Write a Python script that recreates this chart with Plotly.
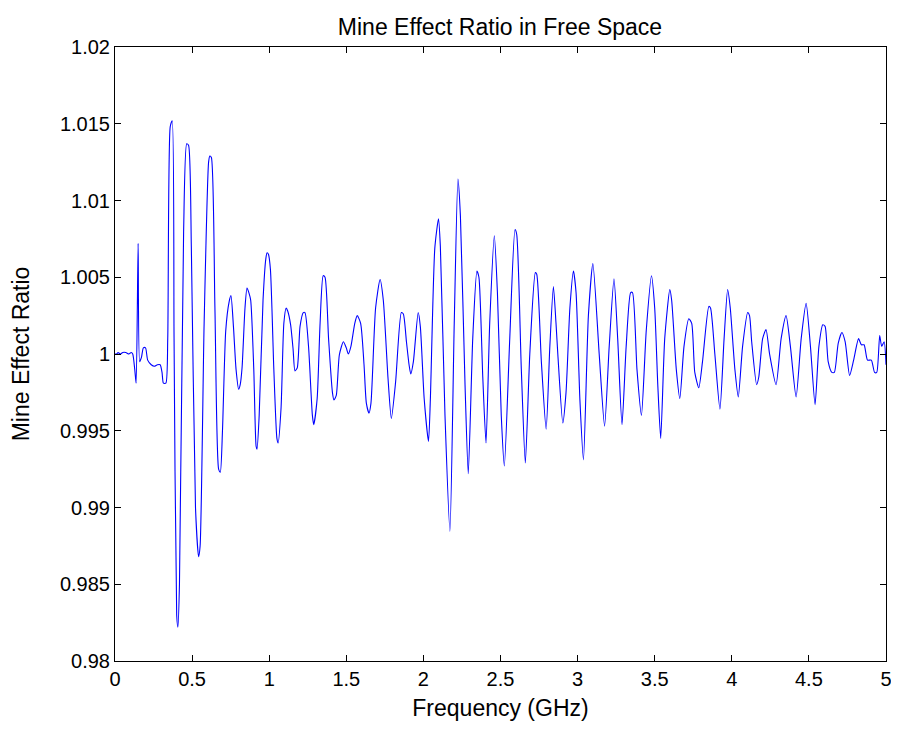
import plotly.graph_objects as go

freq_ghz = [
    0.000, 0.010, 0.020, 0.035, 0.050, 0.070, 0.090, 0.105, 0.115, 0.128,
    0.137, 0.150, 0.160, 0.172, 0.184, 0.198, 0.212, 0.235, 0.255, 0.275,
    0.293, 0.305, 0.314, 0.330, 0.342, 0.358, 0.371, 0.383, 0.400, 0.408,
    0.418, 0.445, 0.465, 0.477, 0.495, 0.522, 0.542, 0.552, 0.578, 0.607,
    0.615, 0.625, 0.648, 0.672, 0.683, 0.697, 0.718, 0.740, 0.752, 0.768,
    0.785, 0.802, 0.812, 0.824, 0.843, 0.856, 0.868, 0.880, 0.900, 0.915,
    0.921, 0.935, 0.960, 0.978, 0.986, 0.995, 1.008, 1.030, 1.050, 1.058,
    1.077, 1.095, 1.110, 1.120, 1.139, 1.155, 1.167, 1.182, 1.200, 1.221,
    1.232, 1.255, 1.280, 1.289, 1.311, 1.330, 1.350, 1.362, 1.385, 1.410,
    1.420, 1.435, 1.455, 1.481, 1.500, 1.513, 1.530, 1.555, 1.571, 1.593,
    1.615, 1.630, 1.647, 1.660, 1.690, 1.719, 1.740, 1.770, 1.792, 1.820,
    1.857, 1.870, 1.890, 1.907, 1.918, 1.935, 1.966, 1.980, 2.005, 2.033,
    2.045, 2.074, 2.098, 2.110, 2.140, 2.172, 2.200, 2.224, 2.240, 2.270,
    2.291, 2.320, 2.347, 2.360, 2.385, 2.406, 2.430, 2.460, 2.480, 2.505,
    2.525, 2.560, 2.594, 2.605, 2.635, 2.661, 2.690, 2.726, 2.735, 2.765,
    2.796, 2.820, 2.843, 2.860, 2.872, 2.904, 2.925, 2.950, 2.973, 2.990,
    3.015, 3.038, 3.070, 3.099, 3.140, 3.175, 3.205, 3.236, 3.260, 3.288,
    3.315, 3.344, 3.356, 3.385, 3.414, 3.445, 3.479, 3.500, 3.520, 3.539,
    3.565, 3.598, 3.610, 3.640, 3.663, 3.690, 3.721, 3.740, 3.760, 3.786,
    3.810, 3.851, 3.862, 3.890, 3.923, 3.950, 3.973, 3.990, 4.020, 4.042,
    4.070, 4.103, 4.115, 4.129, 4.161, 4.175, 4.200, 4.222, 4.245, 4.287,
    4.320, 4.352, 4.380, 4.417, 4.450, 4.482, 4.510, 4.540, 4.565, 4.590,
    4.605, 4.625, 4.649, 4.665, 4.690, 4.714, 4.735, 4.764, 4.790, 4.822,
    4.840, 4.858, 4.880, 4.905, 4.926, 4.940, 4.959, 4.972, 4.988, 5.000,
]

mine_effect_ratio = [
    1.0000, 1.0000, 1.0001, 1.0000, 1.0001, 1.0001, 1.0000, 1.0001, 1.0000, 0.9990,
    0.9981, 1.0072, 0.9995, 0.9998, 1.0004, 1.0004, 0.9996, 0.9993, 0.9992, 0.9993,
    0.9993, 0.9988, 0.9981, 0.9981, 1.0010, 1.0148, 1.0152, 1.0010, 0.9830, 0.9822,
    0.9850, 1.0080, 1.0137, 1.0136, 1.0070, 0.9900, 0.9868, 0.9875, 1.0020, 1.0125,
    1.0129, 1.0128, 1.0030, 0.9925, 0.9923, 0.9950, 1.0015, 1.0034, 1.0038, 1.0018,
    0.9990, 0.9977, 0.9980, 0.9991, 1.0030, 1.0043, 1.0040, 1.0035, 0.9990, 0.9940,
    0.9938, 0.9960, 1.0035, 1.0062, 1.0066, 1.0065, 1.0055, 0.9990, 0.9945, 0.9942,
    0.9965, 1.0020, 1.0030, 1.0028, 1.0019, 1.0003, 0.9989, 0.9991, 1.0018, 1.0027,
    1.0027, 1.0005, 0.9960, 0.9954, 0.9971, 1.0020, 1.0051, 1.0050, 1.0010, 0.9975,
    0.9970, 0.9973, 0.99995, 1.0008, 1.0004, 1.0000, 1.0005, 1.0020, 1.0025, 1.0020,
    0.9993, 0.9968, 0.99615, 0.9968, 1.0030, 1.00485, 1.0035, 0.9985, 0.9958, 0.9982,
    1.0027, 1.0026, 1.0008, 0.9993, 0.9987, 0.9995, 1.0027, 1.0018, 0.9971, 0.9943,
    0.9970, 1.0069, 1.0088, 1.0070, 0.9960, 0.98845, 1.0020, 1.0114, 1.0090, 0.9980,
    0.9922, 1.0010, 1.0054, 1.0050, 0.9985, 0.9942, 1.0020, 1.0077, 1.0040, 0.9960,
    0.9927, 1.0010, 1.0081, 1.0078, 0.9990, 0.9929, 1.0000, 1.0053, 1.0052, 0.9995,
    0.9951, 1.0005, 1.0044, 1.0020, 0.99995, 0.9955, 0.9975, 1.0030, 1.0054, 1.0040,
    0.9970, 0.9931, 1.0025, 1.0059, 1.0000, 0.9953, 1.0005, 1.0049, 1.0010, 0.9954,
    1.0005, 1.0040, 1.0040, 0.9990, 0.9960, 1.0015, 1.0051, 1.0030, 0.9980, 0.9945,
    1.0010, 1.0042, 1.0035, 0.9990, 0.9971, 1.0005, 1.0023, 1.0020, 0.9988, 0.9978,
    0.9995, 1.0031, 1.0030, 1.0000, 0.9964, 1.0010, 1.0042, 1.0030, 0.9990, 0.9972,
    1.0005, 1.0027, 1.0025, 1.0008, 0.9980, 0.9985, 1.0010, 1.0016, 1.0000, 0.9980,
    1.0010, 1.0025, 1.0005, 0.9972, 1.0010, 1.0033, 1.0005, 0.9967, 1.0005, 1.0019,
    1.0018, 0.9995, 0.9988, 0.9988, 1.0007, 1.0014, 1.0008, 0.9986, 0.9996, 1.0010,
    1.0006, 1.0006, 0.9996, 0.9996, 0.9988, 0.9988, 1.0012, 1.0005, 1.0008, 0.9993,
]

x_ticks = [0, 0.5, 1, 1.5, 2, 2.5, 3, 3.5, 4, 4.5, 5]
x_tick_labels = ["0", "0.5", "1", "1.5", "2", "2.5", "3", "3.5", "4", "4.5", "5"]
y_ticks = [0.98, 0.985, 0.99, 0.995, 1.0, 1.005, 1.01, 1.015, 1.02]
y_tick_labels = ["0.98", "0.985", "0.99", "0.995", "1", "1.005", "1.01", "1.015", "1.02"]

FONT = "Liberation Sans, Arial, sans-serif"
W, H = 883, 713

fig = go.Figure()
fig.add_trace(go.Scatter(
    x=freq_ghz, y=mine_effect_ratio, mode="lines",
    line=dict(color="rgb(0,0,255)", width=1.1, shape="spline", smoothing=0.6),
    showlegend=False, hoverinfo="x+y",
))

axis_common = dict(
    showline=True, linecolor="black", linewidth=1, mirror="allticks",
    ticks="inside", ticklen=6, tickwidth=1, tickcolor="black",
    showgrid=False, zeroline=False, automargin=False,
    ticklabeloverflow="allow",
    tickfont=dict(family=FONT, size=20, color="black"),
)

fig.update_layout(
    width=W, height=H,
    margin=dict(l=107, r=5, t=39, b=60, autoexpand=False),
    paper_bgcolor="white", plot_bgcolor="white",
    font=dict(family=FONT, size=20, color="black"),
    title=dict(text="Mine Effect Ratio in Free Space", x=492 / W, xanchor="center",
               y=1 - 19 / H, yanchor="middle", font=dict(family=FONT, size=23, color="black")),
    xaxis=dict(range=[0, 5], tickvals=x_ticks, ticktext=x_tick_labels,
               title=dict(text="Frequency (GHz)", standoff=14,
                          font=dict(family=FONT, size=23, color="black")),
               **axis_common),
    yaxis=dict(range=[0.98, 1.02], tickvals=y_ticks, ticktext=y_tick_labels,
               title=dict(text="Mine Effect Ratio", standoff=23,
                          font=dict(family=FONT, size=23, color="black")),
               **axis_common),
)

fig.write_html("out.html")
